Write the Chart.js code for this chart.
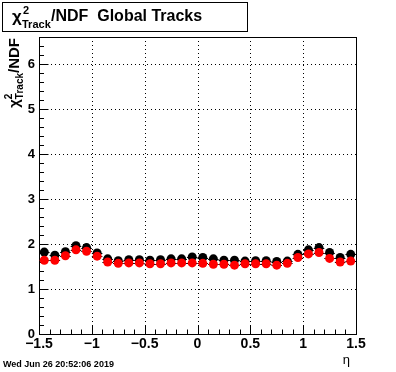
<!DOCTYPE html>
<html>
<head>
<meta charset="utf-8">
<script src="https://cdn.jsdelivr.net/npm/chart.js@4/dist/chart.umd.min.js"></script>
<style>
  html, body { margin: 0; padding: 0; background: #fff; }
  #wrap { width: 396px; height: 372px; }
</style>
</head>
<body>
<div id="wrap"><canvas id="chi2Chart" width="396" height="372"></canvas></div>
<script>
// eta bin centres (bin width 0.1)
const etaBins = [-1.45, -1.35, -1.25, -1.15, -1.05, -0.95, -0.85, -0.75, -0.65, -0.55,
                 -0.45, -0.35, -0.25, -0.15, -0.05, 0.05, 0.15, 0.25, 0.35, 0.45,
                 0.55, 0.65, 0.75, 0.85, 0.95, 1.05, 1.15, 1.25, 1.35, 1.45];
const binWidth = 0.1;

// chi2/NDF, black series
const chi2Black = [1.82, 1.75, 1.83, 1.96, 1.92, 1.80, 1.67, 1.63, 1.65, 1.65,
                   1.64, 1.65, 1.67, 1.67, 1.71, 1.70, 1.67, 1.64, 1.64, 1.62,
                   1.63, 1.63, 1.61, 1.62, 1.77, 1.87, 1.92, 1.81, 1.70, 1.77];
// chi2/NDF, red series
const chi2Red = [1.64, 1.64, 1.74, 1.87, 1.84, 1.73, 1.60, 1.57, 1.58, 1.58,
                 1.56, 1.56, 1.58, 1.58, 1.58, 1.57, 1.55, 1.55, 1.53, 1.56,
                 1.56, 1.56, 1.53, 1.57, 1.70, 1.78, 1.81, 1.68, 1.60, 1.62];

const titleMain = "/NDF  Global Tracks";
const dateStamp = "Wed Jun 26 20:52:06 2019";

const FONT = "'Liberation Sans', Arial, sans-serif";

function toPoints(vals) {
  return etaBins.map((x, i) => ({ x: x, y: vals[i] }));
}

function seg(ctx, x1, y1, x2, y2) {
  ctx.beginPath();
  ctx.moveTo(x1, y1);
  ctx.lineTo(x2, y2);
  ctx.stroke();
}

// ROOT style frame: dotted grid, inner ticks, box, bin-width error bars
const rootFrame = {
  id: "rootFrame",
  beforeDatasetsDraw(chart) {
    const { ctx, chartArea: a, scales: { x, y } } = chart;
    ctx.save();
    ctx.strokeStyle = "#000";
    ctx.lineWidth = 1;

    // dotted grid at major ticks
    ctx.setLineDash([1, 3]);
    x.ticks.forEach(t => {
      const px = Math.round(x.getPixelForValue(t.value)) + 0.5;
      if (px > a.left + 1 && px < a.right - 1) seg(ctx, px, a.top, px, a.bottom);
    });
    y.ticks.forEach(t => {
      const py = Math.round(y.getPixelForValue(t.value)) + 0.5;
      if (py > a.top + 1 && py < a.bottom - 1) seg(ctx, a.left, py, a.right, py);
    });
    ctx.setLineDash([]);

    // frame
    ctx.strokeRect(Math.round(a.left) + 0.5, Math.round(a.top) + 0.5,
                   Math.round(a.right - a.left), Math.round(a.bottom - a.top));

    // x ticks (major 0.5, minor 0.1)
    for (let i = 0; i <= 30; i++) {
      const v = -1.5 + i * 0.1;
      const px = Math.round(x.getPixelForValue(v)) + 0.5;
      const len = (i % 5 === 0) ? 9 : 4.5;
      seg(ctx, px, a.bottom, px, a.bottom - len);
    }
    // y ticks (major 1, minor 0.2)
    for (let i = 0; i * 0.2 <= y.max + 1e-9; i++) {
      const v = i * 0.2;
      const py = Math.round(y.getPixelForValue(v)) + 0.5;
      const len = (i % 5 === 0) ? 9.5 : 5;
      seg(ctx, a.left, py, a.left + len, py);
    }

    // horizontal error bars (bin width), black
    chart.data.datasets.forEach(ds => {
      ds.data.forEach(p => {
        const x1 = x.getPixelForValue(p.x - binWidth / 2);
        const x2 = x.getPixelForValue(p.x + binWidth / 2);
        const py = Math.round(y.getPixelForValue(p.y)) + 0.5;
        seg(ctx, x1, py, x2, py);
      });
    });
    ctx.restore();
  },
  afterDraw(chart) {
    const { ctx, chartArea: a } = chart;
    ctx.save();
    ctx.fillStyle = "#000";
    ctx.strokeStyle = "#000";
    ctx.lineWidth = 1;

    // title box
    ctx.strokeRect(2.5, 2.5, 245, 29);
    ctx.textBaseline = "alphabetic";
    ctx.textAlign = "left";
    ctx.font = "bold 17px " + FONT;
    ctx.fillText("\u03c7", 12, 22);
    ctx.font = "bold 11px " + FONT;
    ctx.fillText("2", 23, 14);
    ctx.fillText("Track", 22, 28);
    ctx.font = "bold 16px " + FONT;
    ctx.fillText(titleMain, 51, 21);

    // y axis title, rotated
    ctx.save();
    ctx.translate(19, a.top);
    ctx.rotate(-Math.PI / 2);
    ctx.font = "bold 15px " + FONT;
    const wNdf = ctx.measureText("/NDF").width;
    ctx.font = "bold 10px " + FONT;
    const wTrack = ctx.measureText("Track").width;
    ctx.font = "bold 15px " + FONT;
    const wChi = ctx.measureText("\u03c7").width;
    const start = -(wChi + wTrack + wNdf) - 1;
    ctx.fillText("\u03c7", start, 0);
    ctx.font = "bold 10px " + FONT;
    ctx.fillText("2", start + wChi, -7);
    ctx.fillText("Track", start + wChi, 4);
    ctx.font = "bold 15px " + FONT;
    ctx.fillText("/NDF", start + wChi + wTrack, 0);
    ctx.restore();

    // x axis title
    ctx.font = "13px " + FONT;
    ctx.textAlign = "right";
    ctx.fillText("\u03b7", 350, 364);

    // date stamp
    ctx.font = "bold 9px " + FONT;
    ctx.textAlign = "left";
    ctx.fillText(dateStamp, 3, 367);
    ctx.restore();
  }
};

new Chart(document.getElementById("chi2Chart"), {
  type: "scatter",
  data: {
    datasets: [
      {
        label: "red",
        data: toPoints(chi2Red),
        backgroundColor: "#ff0000",
        borderColor: "#ff0000",
        pointRadius: 4.5,
        pointBorderWidth: 0,
        pointHoverRadius: 4.5
      },
      {
        label: "black",
        data: toPoints(chi2Black),
        backgroundColor: "#000000",
        borderColor: "#000000",
        pointRadius: 4.5,
        pointBorderWidth: 0,
        pointHoverRadius: 4.5
      }
    ]
  },
  options: {
    responsive: false,
    animation: false,
    events: [],
    layout: { padding: { top: 37, right: 40, left: 0, bottom: 0 } },
    plugins: { legend: { display: false }, tooltip: { enabled: false } },
    scales: {
      x: {
        type: "linear",
        min: -1.5,
        max: 1.5,
        grid: { display: false, drawTicks: false },
        border: { display: false },
        afterFit: s => { s.height = 38; },
        ticks: {
          stepSize: 0.5,
          padding: 2,
          maxRotation: 0,
          autoSkip: false,
          color: "#000",
          font: { family: FONT, size: 14, weight: "bold" },
          callback: v => {
            const r = Math.round(v * 10) / 10;
            return (r < 0 ? "\u2212" : "") + String(Math.abs(r));
          }
        }
      },
      y: {
        type: "linear",
        min: 0,
        max: 6.6,
        grid: { display: false, drawTicks: false },
        border: { display: false },
        afterFit: s => { s.width = 39; },
        ticks: {
          stepSize: 1,
          includeBounds: false,
          padding: 4,
          color: "#000",
          font: { family: FONT, size: 13, weight: "bold" },
          callback: v => String(Math.round(v))
        }
      }
    }
  },
  plugins: [rootFrame]
});
</script>
</body>
</html>
